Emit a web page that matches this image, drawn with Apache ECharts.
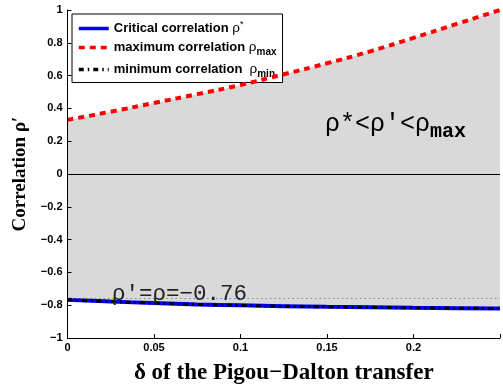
<!DOCTYPE html>
<html><head><meta charset="utf-8">
<script src="https://cdn.jsdelivr.net/npm/echarts@6/dist/echarts.min.js"></script>
<style>html,body{margin:0;padding:0;background:#fff}#c{width:503px;height:390px}</style>
</head><body><div id="c"></div>
<script>
const deltas   = [0, 0.025, 0.05, 0.075, 0.1, 0.125, 0.15, 0.175, 0.2, 0.225, 0.25];
const rhoMax   = [0.33, 0.38, 0.433, 0.487, 0.543, 0.608, 0.675, 0.748, 0.83, 0.915, 1.0];
const rhoCrit  = [-0.767, -0.778, -0.787, -0.795, -0.801, -0.806, -0.81, -0.813, -0.816, -0.818, -0.82];
const rhoMin   = [-0.767, -0.778, -0.787, -0.795, -0.801, -0.806, -0.81, -0.813, -0.816, -0.818, -0.82];
const rhoRef   = -0.76;
const xTicks   = [0, 0.05, 0.1, 0.15, 0.2];
const yTicks   = [-1, -0.8, -0.6, -0.4, -0.2, 0, 0.2, 0.4, 0.6, 0.8, 1];

const pair = arr => deltas.map((d, i) => [d, arr[i]]);
const fmt = v => (v < 0 ? '\u2212' : '') + String(Math.abs(Number(v.toFixed(2))));

const chart = echarts.init(document.getElementById('c'), null, {renderer: 'canvas'});
const labelFont = {fontFamily: 'Liberation Sans, Arial, sans-serif', fontWeight: 'bold', fontSize: 11, color: '#000'};
const sans = 'Liberation Sans, Arial, sans-serif';
const mono = '"Liberation Mono", "Courier New", monospace';
chart.setOption({
  animation: false,
  backgroundColor: '#fff',
  grid: {left: 67.5, top: 10, width: 440, height: 332, containLabel: false},
  xAxis: {
    type: 'value', min: 0, max: 0.25, interval: 0.05, z: 10,
    name: 'δ of the Pigou\u2212Dalton transfer', nameLocation: 'middle', nameGap: 24,
    nameTextStyle: {fontFamily: 'Liberation Serif, Times New Roman, serif', fontWeight: 'bold', fontSize: 23, color: '#000'},
    axisLine: {show: true, onZero: false, lineStyle: {color: '#000', width: 1}},
    axisTick: {show: true, inside: true, length: 4, lineStyle: {color: '#000'}},
    axisLabel: Object.assign({margin: 4, formatter: v => xTicks.some(t => Math.abs(t - v) < 1e-9) ? fmt(v) : ''}, labelFont),
    splitLine: {show: false}
  },
  yAxis: {
    type: 'value', min: -1, max: 1, interval: 0.2, z: 10,
    name: 'Correlation ρ\u2032', nameLocation: 'middle', nameGap: 36,
    nameTextStyle: {fontFamily: 'Liberation Serif, Times New Roman, serif', fontWeight: 'bold', fontSize: 19, color: '#000'},
    axisLine: {show: true, onZero: false, lineStyle: {color: '#000', width: 1}},
    axisTick: {show: true, inside: true, length: 4, lineStyle: {color: '#000'}},
    axisLabel: Object.assign({margin: 5, formatter: v => yTicks.some(t => Math.abs(t - v) < 1e-9) ? fmt(v) : ''}, labelFont),
    splitLine: {show: false}
  },
  legend: {
    orient: 'vertical', left: 72, top: 14, padding: [6, 6, 3, 5], itemGap: 5,
    itemWidth: 30, itemHeight: 14,
    backgroundColor: '#fff', borderColor: '#000', borderWidth: 1,
    itemStyle: {opacity: 0},
    lineStyle: {width: 3.5},
    data: ['crit', 'max', 'min'],
    formatter: n => ({
      crit: '{t|Critical correlation }{r|ρ}{sup|*}',
      max: '{t|maximum correlation }{r|ρ}{sub|max}',
      min: '{t|minimum correlation  }{r|ρ}{sub|min}'
    })[n],
    textStyle: {
      rich: {
        t: {fontFamily: sans, fontWeight: 'bold', fontSize: 13, color: '#000'},
        r: {fontFamily: sans, fontSize: 13.5, color: '#000'},
        sup: {fontFamily: sans, fontSize: 9, color: '#000', verticalAlign: 'top', padding: [0, 0, 8, 0]},
        sub: {fontFamily: sans, fontWeight: 'bold', fontSize: 10, color: '#000', padding: [10, 0, 0, 0]}
      }
    }
  },
  series: [
    {name: 'fillMax', type: 'line', data: pair(rhoMax), symbol: 'none', smooth: true,
     lineStyle: {opacity: 0}, areaStyle: {color: '#d9d9d9', opacity: 1, origin: 'start'}, silent: true, z: 1},
    {name: 'fillMin', type: 'line', data: pair(rhoCrit), symbol: 'none', smooth: true,
     lineStyle: {opacity: 0}, areaStyle: {color: '#ffffff', opacity: 1, origin: 'start'}, silent: true, z: 2},
    {name: 'crit', type: 'line', data: pair(rhoCrit), symbol: 'none', smooth: true,
     color: '#0000ff', lineStyle: {color: '#0000ff', width: 4}, z: 3},
    {name: 'max', type: 'line', data: pair(rhoMax), symbol: 'none', smooth: true,
     color: '#ff0000', lineStyle: {color: '#ff0000', width: 4, type: [6, 5]}, z: 4,
     markLine: {silent: true, symbol: 'none', label: {show: false},
       data: [
         {yAxis: 0, lineStyle: {color: '#000', width: 1, type: 'solid'}},
         {yAxis: rhoRef, lineStyle: {color: '#888', width: 1.2, type: [1.5, 3]}}
       ]}},
    {name: 'min', type: 'line', data: pair(rhoMin), symbol: 'none', smooth: true,
     color: '#000', lineStyle: {color: '#000', width: 3, type: [5, 4, 1.5, 4]}, z: 5}
  ],
  graphic: [
    {type: 'text', left: 112, top: 283, z: 10,
     style: {text: 'ρ\u2032=ρ=\u22120.76', fontFamily: mono, fontSize: 22.5, fill: '#222'}},
    {type: 'text', left: 325, top: 112, z: 10,
     style: {text: '{a|ρ*<ρ\u2032<ρ}{s|max}', rich: {
       a: {fontFamily: mono, fontSize: 25, color: '#111'},
       s: {fontFamily: mono, fontWeight: 'bold', fontSize: 20, color: '#111', padding: [14, 0, 0, 0]}
     }}}
  ]
});
</script></body></html>
